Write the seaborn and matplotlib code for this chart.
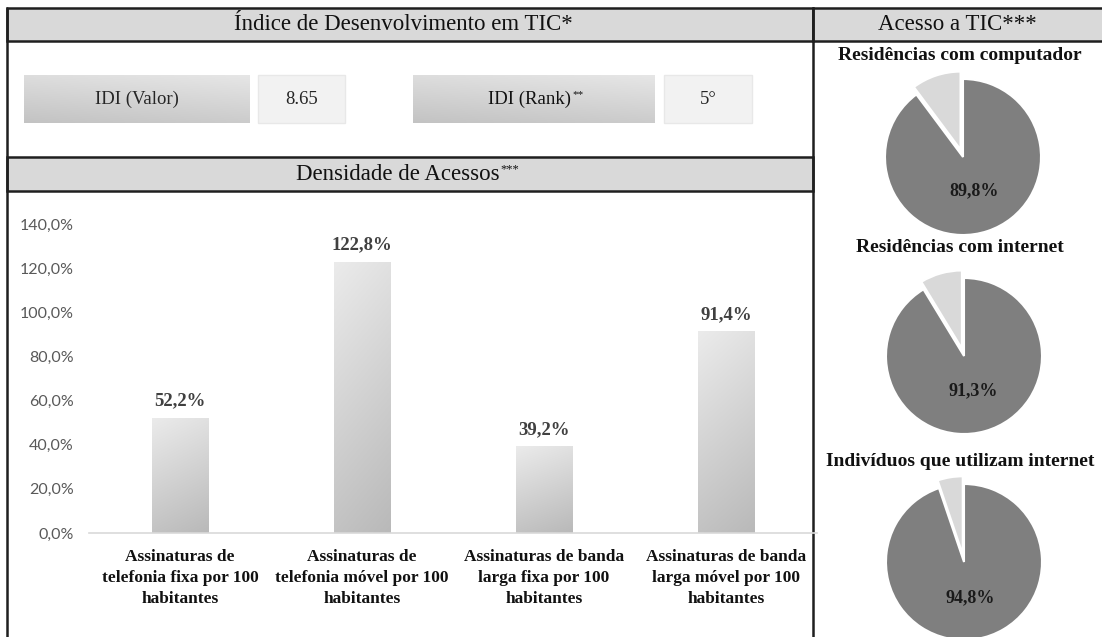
import numpy as np
import matplotlib
matplotlib.use("Agg")
import matplotlib.pyplot as plt
from matplotlib.patches import Rectangle
from matplotlib.colors import LinearSegmentedColormap
import seaborn as sns
import pandas as pd

# ---------------- data ----------------
categorias = [
    "Assinaturas de\ntelefonia fixa por 100\nhabitantes",
    "Assinaturas de\ntelefonia móvel por 100\nhabitantes",
    "Assinaturas de banda\nlarga fixa por 100\nhabitantes",
    "Assinaturas de banda\nlarga móvel por 100\nhabitantes",
]
densidade = [52.2, 122.8, 39.2, 91.4]
yticks = [0, 20, 40, 60, 80, 100, 120, 140]

pie_titulos = [
    "Residências com computador",
    "Residências com internet",
    "Indivíduos que utilizam internet",
]
pie_valores = [89.8, 91.3, 94.8]

idi_valor = "8.65"
idi_rank = "5°"

# ---------------- figure ----------------
W, H = 1102, 637
sns.set_theme(style="white")
plt.rcParams["font.family"] = ["Liberation Serif", "DejaVu Serif"]

fig = plt.figure(figsize=(W / 100, H / 100), dpi=100)
fig.patch.set_facecolor("white")

bg = fig.add_axes([0, 0, 1, 1])
bg.axis("off")
bg.set_xlim(0, W)
bg.set_ylim(H, 0)
renderer = fig.canvas.get_renderer()


def px_axes(x0, y0, x1, y1):
    """Axes placed by pixel box (top-left origin)."""
    return fig.add_axes([x0 / W, 1 - y1 / H, (x1 - x0) / W, (y1 - y0) / H])


def with_superscript(x, y, main, sup, size, sup_size):
    """Centered text followed by a small raised suffix."""
    t = bg.text(x, y, main, ha="center", va="center", fontsize=size,
                color="#111111", zorder=4)
    ext = t.get_window_extent(renderer)
    x_end = ext.x1  # display pixels == figure pixels at dpi 100
    bg.text(x_end + 1, y - 0.32 * size, sup, ha="left", va="center",
            fontsize=sup_size, color="#111111", zorder=4)


LINE = "#1f1f1f"
BAND = "#d9d9d9"

# header bands
for (x0, y0, x1, y1) in [(7, 8, 813, 41), (813, 8, 1106, 41), (7, 157, 813, 191)]:
    bg.add_patch(Rectangle((x0, y0), x1 - x0, y1 - y0, facecolor=BAND,
                           edgecolor=LINE, lw=1.8, zorder=2))
bg.plot([7, 7], [8, H + 3], color=LINE, lw=1.8, zorder=3)
bg.plot([813, 813], [8, H + 3], color=LINE, lw=1.8, zorder=3)

bg.text(403, 25, "Índice de Desenvolvimento em TIC*", ha="center", va="center",
        fontsize=16.5, color="#111111", zorder=4)
bg.text(957, 25, "Acesso a TIC***", ha="center", va="center",
        fontsize=16.5, color="#111111", zorder=4)
with_superscript(398, 175, "Densidade de Acessos", "***", 16.5, 9)

# IDI boxes with soft gradient fill
cmap_box = LinearSegmentedColormap.from_list("box", ["#e6e6e6", "#c3c3c3"])
vv, uu = np.mgrid[0:1:60j, 0:1:120j]
grad_box = 0.75 * vv + 0.25 * (1 - uu)

caixas_rotulo = [(24, 75, 250, 123), (413, 75, 655, 123)]
caixas_valor = [(258, 75, 345, 123), (664, 75, 752, 123)]
for (x0, y0, x1, y1) in caixas_rotulo:
    bg.imshow(grad_box, cmap=cmap_box, extent=(x0, x1, y1, y0), origin="upper",
              aspect="auto", zorder=2, interpolation="bicubic")
for (x0, y0, x1, y1) in caixas_valor:
    bg.add_patch(Rectangle((x0, y0), x1 - x0, y1 - y0, facecolor="#f2f2f2",
                           edgecolor="#e8e8e8", lw=1, zorder=2))
bg.set_xlim(0, W)
bg.set_ylim(H, 0)

bg.text(137, 99, "IDI (Valor)", ha="center", va="center", fontsize=13.5, zorder=4)
bg.text(301.5, 99, idi_valor, ha="center", va="center", fontsize=13.5, zorder=4)
with_superscript(530, 99, "IDI (Rank)", "**", 13.5, 8)
bg.text(708, 99, idi_rank, ha="center", va="center", fontsize=13.5, zorder=4)

# ---------------- bar chart ----------------
ax = px_axes(89, 224, 817, 533)
ax.patch.set_alpha(0)
df = pd.DataFrame({"categoria": categorias, "densidade": densidade})
sns.barplot(data=df, x="categoria", y="densidade", ax=ax, width=0.31,
            color="#d0d0d0", saturation=1)
ax.set_ylim(0, 140)
ax.set_xlim(-0.5, 3.5)

cmap_bar = LinearSegmentedColormap.from_list("bar", ["#ebebeb", "#b9b9b9"])
yy, xx = np.mgrid[0:1:120j, 0:1:40j]
grad_bar = 0.8 * (1 - yy) + 0.2 * xx
for p in list(ax.patches):
    x, w, h = p.get_x(), p.get_width(), p.get_height()
    im = ax.imshow(grad_bar, cmap=cmap_bar, extent=(x, x + w, 0, h), origin="lower",
                   aspect="auto", zorder=2, interpolation="bicubic")
    im.set_clip_path(p)
    p.set_facecolor("none")
    p.set_edgecolor("none")
ax.set_ylim(0, 140)
ax.set_xlim(-0.5, 3.5)

for i, v in enumerate(densidade):
    ax.annotate(f"{v:.1f}%".replace(".", ","), (i, v), xytext=(0, 6),
                textcoords="offset points", ha="center", va="bottom",
                fontsize=13.5, fontweight="bold", color="#404040")

ax.set_yticks(yticks)
ax.set_yticklabels([f"{t:.1f}%".replace(".", ",") for t in yticks],
                   fontfamily="Lato", fontsize=11.5, color="#595959")
ax.set_xticks(range(len(categorias)))
ax.set_xticklabels(categorias, fontsize=12.5, fontweight="bold",
                   color="#111111", linespacing=1.42)
ax.tick_params(axis="y", length=0, pad=11)
ax.tick_params(axis="x", length=0, pad=11.5)
ax.set_xlabel("")
ax.set_ylabel("")
for s in ["left", "top", "right"]:
    ax.spines[s].set_visible(False)
ax.spines["bottom"].set_color("#d9d9d9")
ax.spines["bottom"].set_linewidth(1.2)
ax.grid(False)

# ---------------- pies ----------------
centros = [(963, 157), (964, 356), (964, 562)]
titulo_y = [55, 247, 462]
R = 78
for (cx, cy), v, t, ty in zip(centros, pie_valores, pie_titulos, titulo_y):
    s = 1.2 * R
    pa = px_axes(cx - s, cy - s, cx + s, cy + s)
    pa.pie([v, 100 - v], colors=["#7f7f7f", "#d9d9d9"], startangle=90,
           counterclock=False, explode=[0, 0.1],
           wedgeprops=dict(edgecolor="white", linewidth=1.5),
           autopct=lambda p: f"{p:.1f}%".replace(".", ",") if p > 50 else "",
           pctdistance=0.46,
           textprops=dict(fontsize=13, fontweight="bold", color="#1a1a1a"))
    pa.set_xlim(-1.2, 1.2)
    pa.set_ylim(-1.2, 1.2)
    pa.set_aspect("equal")
    pa.axis("off")
    bg.text(960, ty, t, ha="center", va="center", fontsize=14,
            fontweight="bold", color="#111111", zorder=4)

fig.savefig("out.png", dpi=100, facecolor="white")
